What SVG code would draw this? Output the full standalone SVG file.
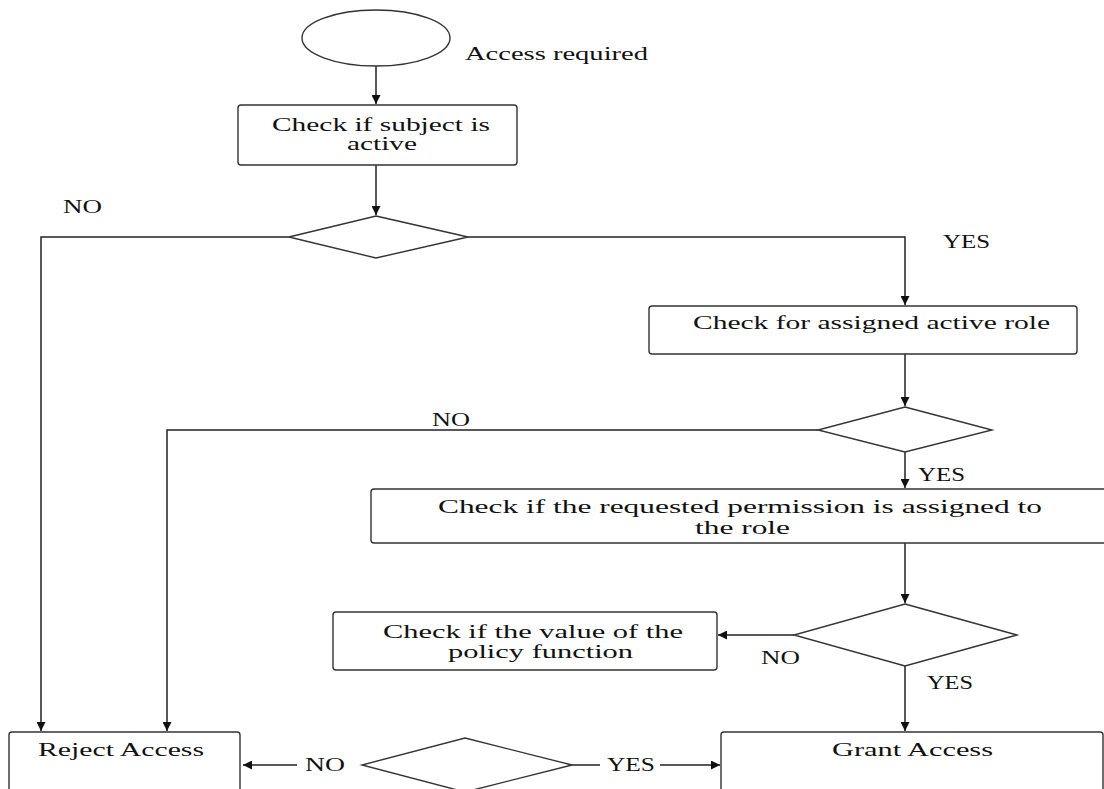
<svg xmlns="http://www.w3.org/2000/svg" width="1104" height="789" viewBox="0 0 1104 789">
<defs>
<marker id="ah" viewBox="0 0 10 10" refX="10" refY="5" markerWidth="9" markerHeight="9" markerUnits="userSpaceOnUse" orient="auto">
<path d="M0,0 L10,5 L0,10 z" fill="#111"/>
</marker>
<style>
.s{fill:#fff;stroke:#333;stroke-width:1.4}
.c{fill:none;stroke:#222;stroke-width:1.5}
.t{font-family:"Liberation Serif","Times New Roman",serif;font-size:19px;fill:#111}
</style>
</defs>
<rect width="1104" height="789" fill="#fff"/>
<g id="connectors">
<path class="c" d="M376,66 V104" marker-end="url(#ah)"/>
<path class="c" d="M376,165 V215" marker-end="url(#ah)"/>
<path class="c" d="M289,237 H41 V731" marker-end="url(#ah)"/>
<path class="c" d="M468,237 H905 V305" marker-end="url(#ah)"/>
<path class="c" d="M905,354 V406" marker-end="url(#ah)"/>
<path class="c" d="M818,430 H167 V731" marker-end="url(#ah)"/>
<path class="c" d="M905,452 V488" marker-end="url(#ah)"/>
<path class="c" d="M905,543 V603" marker-end="url(#ah)"/>
<path class="c" d="M794,635 H718" marker-end="url(#ah)"/>
<path class="c" d="M905,666 V731" marker-end="url(#ah)"/>
<path class="c" d="M297,765 H243" marker-end="url(#ah)"/>
<path class="c" d="M572,765 H600"/>
<path class="c" d="M660,765 H720" marker-end="url(#ah)"/>
<text class="t" x="63" y="213" textLength="39" lengthAdjust="spacingAndGlyphs">NO</text>
<text class="t" x="943" y="248" textLength="47" lengthAdjust="spacingAndGlyphs">YES</text>
<text class="t" x="432" y="426" textLength="38" lengthAdjust="spacingAndGlyphs">NO</text>
<text class="t" x="918" y="481" textLength="47" lengthAdjust="spacingAndGlyphs">YES</text>
<text class="t" x="761" y="664" textLength="39" lengthAdjust="spacingAndGlyphs">NO</text>
<text class="t" x="927" y="689" textLength="46" lengthAdjust="spacingAndGlyphs">YES</text>
<text class="t" x="305" y="771" textLength="40" lengthAdjust="spacingAndGlyphs">NO</text>
<text class="t" x="607" y="771" textLength="48" lengthAdjust="spacingAndGlyphs">YES</text>
</g>
<g id="start">
<ellipse class="s" cx="376" cy="38" rx="74" ry="28"/>
<text class="t" x="465" y="60" textLength="183" lengthAdjust="spacingAndGlyphs">Access required</text>
</g>
<g id="check-active">
<rect class="s" x="238" y="105" width="279" height="60" rx="3"/>
<text class="t" x="272" y="131" textLength="218" lengthAdjust="spacingAndGlyphs">Check if subject is</text>
<text class="t" x="347" y="150" textLength="70" lengthAdjust="spacingAndGlyphs">active</text>
</g>
<g id="decision-1">
<polygon class="s" points="376,216 468,237 376,258 289,237"/>
</g>
<g id="check-role">
<rect class="s" x="649" y="306" width="428" height="48" rx="3"/>
<text class="t" x="693" y="329" textLength="357" lengthAdjust="spacingAndGlyphs">Check for assigned active role</text>
</g>
<g id="decision-2">
<polygon class="s" points="905,407 992,430 905,452 818,430"/>
</g>
<g id="check-permission">
<rect class="s" x="371" y="489" width="740" height="54" rx="3"/>
<text class="t" x="438" y="513" textLength="604" lengthAdjust="spacingAndGlyphs">Check if the requested permission is assigned to</text>
<text class="t" x="695" y="534" textLength="95" lengthAdjust="spacingAndGlyphs">the role</text>
</g>
<g id="decision-3">
<polygon class="s" points="905,604 1017,635 905,666 794,635"/>
</g>
<g id="check-policy">
<rect class="s" x="333" y="612" width="384" height="58" rx="3"/>
<text class="t" x="383" y="638" textLength="300" lengthAdjust="spacingAndGlyphs">Check if the value of the</text>
<text class="t" x="448" y="658" textLength="185" lengthAdjust="spacingAndGlyphs">policy function</text>
</g>
<g id="reject">
<rect class="s" x="9" y="732" width="231" height="80" rx="3"/>
<text class="t" x="38" y="756" textLength="166" lengthAdjust="spacingAndGlyphs">Reject Access</text>
</g>
<g id="decision-4">
<polygon class="s" points="465,738 572,765 465,792 362,765"/>
</g>
<g id="grant">
<rect class="s" x="721" y="732" width="382" height="80" rx="3"/>
<text class="t" x="832" y="756" textLength="161" lengthAdjust="spacingAndGlyphs">Grant Access</text>
</g>
</svg>
